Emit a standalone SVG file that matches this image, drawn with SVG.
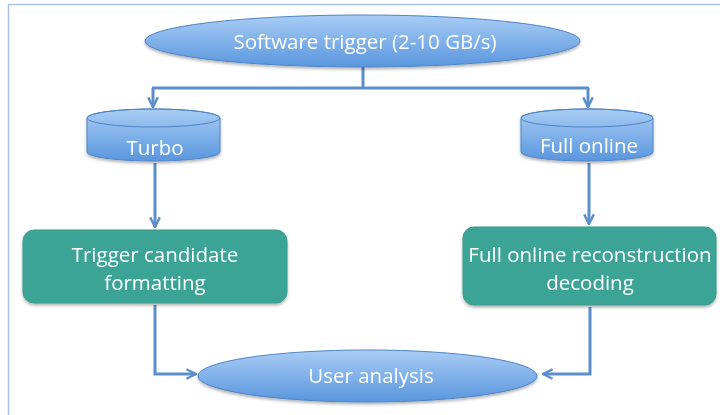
<svg xmlns="http://www.w3.org/2000/svg" width="720" height="415" viewBox="0 0 720 415">
<defs>
<linearGradient id="gBlue" x1="0" y1="0" x2="0" y2="1">
<stop offset="0" stop-color="#A9CDF5"/>
<stop offset="1" stop-color="#5996DE"/>
</linearGradient>
<filter id="sh" x="-10%" y="-10%" width="120%" height="130%">
<feDropShadow dx="0" dy="2" stdDeviation="1.5" flood-color="#000" flood-opacity="0.3"/>
</filter>
<marker id="arr" viewBox="0 0 10 10" refX="9" refY="5" markerWidth="4" markerHeight="4" orient="auto">
<path d="M1,1 L9,5 L1,9" fill="none" stroke="#5A8FCB" stroke-width="2"/>
</marker>
<style>
.lbl{font-family:"Open Sans","Liberation Sans",sans-serif;font-size:20.5px;fill:#fff;text-anchor:middle}
.blue{fill:url(#gBlue);stroke:#4F84C4;stroke-width:1}
.teal{fill:#3BA497;stroke:#3A9A8E;stroke-width:1}
.con{fill:none;stroke:#5A8FCB;stroke-width:3}
</style>
</defs>
<rect width="720" height="415" fill="#fff"/>
<path d="M8.5,415 V4.5 H720" fill="none" stroke="#A9C3E3" stroke-width="1.5"/>

<g id="connectors">
<path class="con" d="M363,67 V88"/>
<path class="con" d="M152,88 H589"/>
<path class="con" d="M153,88 V107" marker-end="url(#arr)"/>
<path class="con" d="M588,88 V107" marker-end="url(#arr)"/>
<path class="con" d="M155,163 V227" marker-end="url(#arr)"/>
<path class="con" d="M589,163 V224" marker-end="url(#arr)"/>
<path class="con" d="M155,305 V374 H196" marker-end="url(#arr)"/>
<path class="con" d="M590,307 V374 H543" marker-end="url(#arr)"/>
</g>

<g id="software-trigger" filter="url(#sh)">
<ellipse class="blue" cx="362.5" cy="41" rx="217.5" ry="26"/>
<text class="lbl" x="365" y="49">Software trigger (2-10 GB/s)</text>
</g>

<g id="turbo" filter="url(#sh)">
<path class="blue" d="M87,118 A66.5,9 0 0 1 220,118 V152 A66.5,9 0 0 1 87,152 Z"/>
<ellipse cx="153.5" cy="118" rx="66.5" ry="9" fill="none" stroke="#4F84C4" stroke-width="1"/>
<text class="lbl" x="155" y="155">Turbo</text>
</g>

<g id="full-online" filter="url(#sh)">
<path class="blue" d="M521,118 A66,9 0 0 1 653,118 V152 A66,9 0 0 1 521,152 Z"/>
<ellipse cx="587" cy="118" rx="66" ry="9" fill="none" stroke="#4F84C4" stroke-width="1"/>
<text class="lbl" x="589" y="153">Full online</text>
</g>

<g id="trigger-candidate" filter="url(#sh)">
<rect class="teal" x="23" y="230" width="264" height="73" rx="11"/>
<text class="lbl" x="155" y="262">Trigger candidate</text>
<text class="lbl" x="155" y="290">formatting</text>
</g>

<g id="full-online-reco" filter="url(#sh)">
<rect class="teal" x="463" y="227" width="253" height="78" rx="11"/>
<text class="lbl" x="590" y="262">Full online reconstruction</text>
<text class="lbl" x="590" y="290">decoding</text>
</g>

<g id="user-analysis" filter="url(#sh)">
<ellipse class="blue" cx="367.5" cy="376" rx="169.5" ry="26"/>
<text class="lbl" x="371" y="383">User analysis</text>
</g>
</svg>
